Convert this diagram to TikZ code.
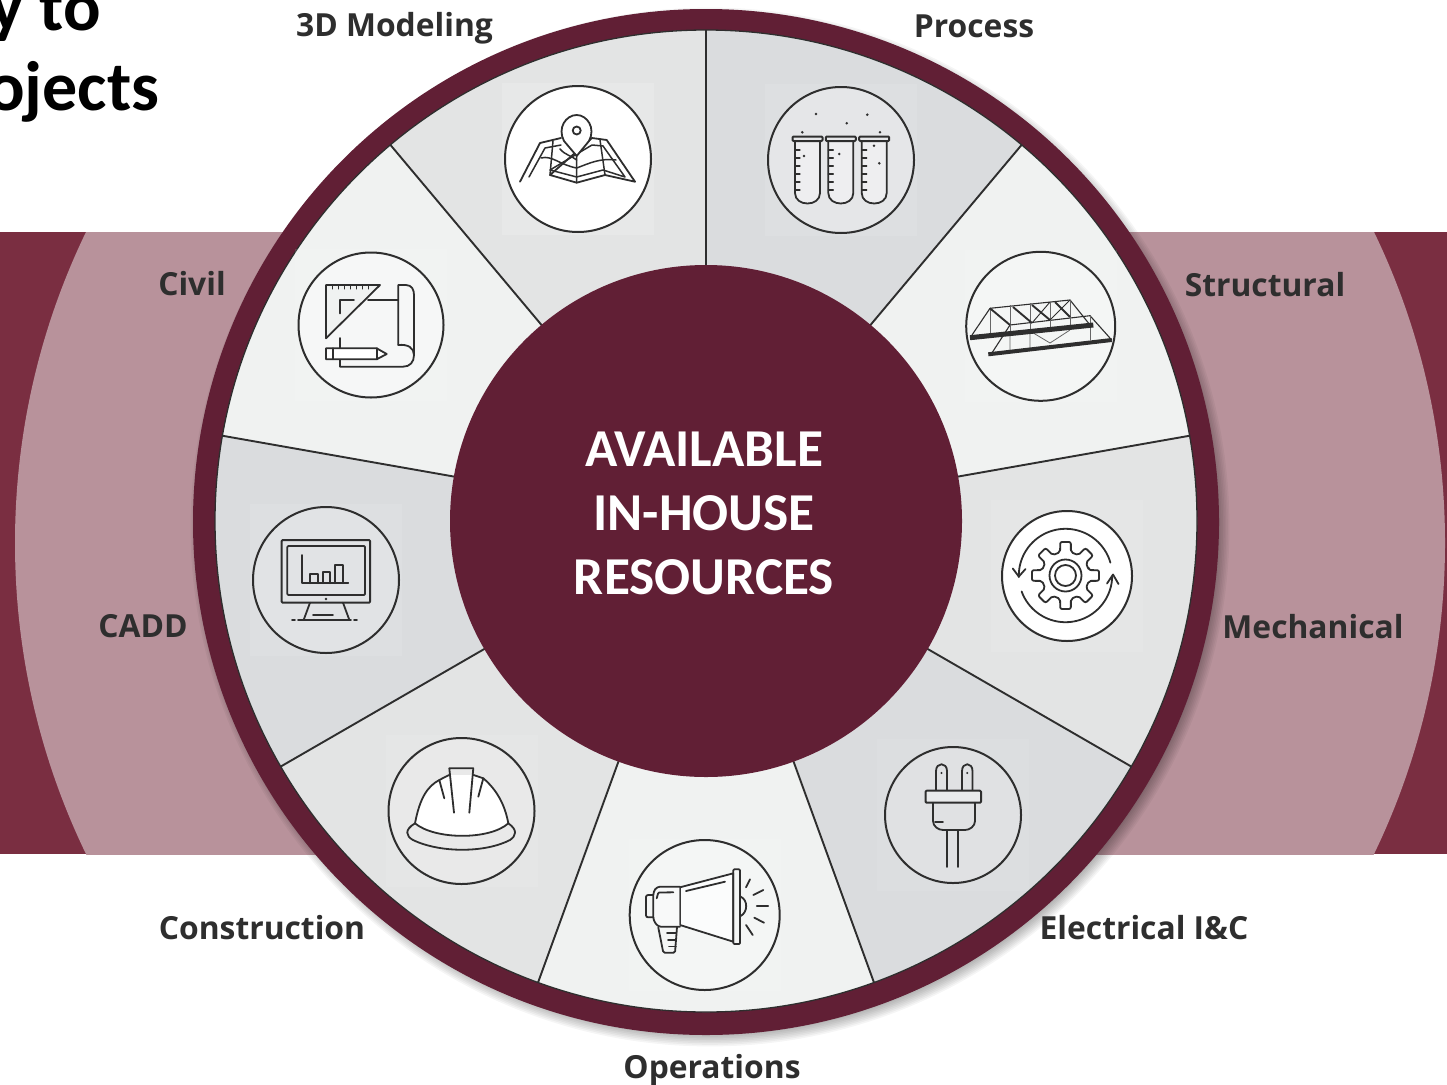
\documentclass[tikz,border=0pt]{standalone}
\usepackage{fontspec}
\setmainfont{Open Sans}
\newfontfamily\calfont{Carlito}
\definecolor{wine}{HTML}{611F35}
\definecolor{bandd}{HTML}{7A2E41}
\definecolor{bandl}{HTML}{B8929B}
\definecolor{secA}{HTML}{DADCDE}
\definecolor{secB}{HTML}{F0F2F1}
\definecolor{secC}{HTML}{E3E4E4}
\definecolor{ink}{HTML}{2E2E2E}
\tikzset{
  lab/.style={font=\fontsize{31.8}{36}\selectfont\bfseries,text=ink,inner sep=0pt},
  ico/.style={draw=ink,line width=1.8,line join=round,line cap=round},
  icb/.style={draw=ink,line width=2},
  spoke/.style={line width=1.9,ink},
}
\newcommand{\lbl}[4]{\node[lab] (n#1) at (#2,#3) {#4};}
\newcommand{\icb}[5]{% cx cy r fill squareopacity
  \fill[white,opacity=#5] (#1-76,#2-76) rectangle (#1+76,#2+76);
  \filldraw[icb,fill=#4] (#1,#2) circle[radius=#3];}
\begin{document}
\begin{tikzpicture}[x=1pt,y=-1pt]
\useasboundingbox (0,0) rectangle (1447,1084);
\clip (0,0) rectangle (1447,1084);
\fill[white] (0,0) rectangle (1447,1084);
% band
\fill[bandd] (0,232) rectangle (1447,854);
\begin{scope}
  \clip (0,232) rectangle (1447,854);
  \fill[bandl] (730,543) circle[radius=715];
\end{scope}
% title
\node[font=\calfont\fontsize{70}{74}\selectfont\bfseries,text=black,anchor=base east,inner sep=0pt] (t1) at (101,30) {y to};
\node[font=\calfont\fontsize{70}{74}\selectfont\bfseries,text=black,anchor=base east,inner sep=0pt] (t2) at (159.5,110) {ojects};
% ring shadow
\foreach \i in {1,...,9}{\fill[black,opacity=.04] (706+4,522+5) circle[radius=505+\i*1.6];}
% ring
\fill[wine] (706,522) circle[radius=513];
% sectors
\begin{scope}
  \clip (706,521) circle[radius=491];
  \begin{scope}[shift={(706,521)}]
  \foreach \a/\c in {90/secA,50/secB,10/secC,-30/secA,-70/secB,-110/secC,-150/secA,170/secB,130/secC}{
    \fill[\c] (0,0) -- ({-\a}:800) -- ({-\a+20}:900) -- ({-\a+40}:800) -- cycle;
  }
  \end{scope}
\end{scope}
\draw[line width=1.3,ink] (706,521) circle[radius=491];
\begin{scope}[shift={(706,521)}]
\foreach \a in {90,50,10,-30,-70,-110,-150,170,130}{
  \draw[spoke] ({-\a}:250) -- ({-\a}:491);
}
\end{scope}
% centre disk
\node[circle,fill=wine,minimum size=512,inner sep=0pt] (hub) at (706,521) {};
\node[text=white,align=center,inner sep=0pt,
  font=\calfont\fontsize{53.3}{64}\selectfont\bfseries] (hubtext) at (704,513) {AVAILABLE\\IN-HOUSE\\RESOURCES};
% ---- 3D modeling
\icb{578}{159}{73}{white}{.15}
\begin{scope}[ico]
\draw (520,181.7) -- (540,143) -- (561,138) (592,138) -- (606.7,140) -- (635,181.7) -- (605,175) -- (576.7,182.7) -- (550,175) -- cycle;
\draw[line width=1.5] (529,177) -- (545,148) -- (561,145) (592,145) -- (603,146) -- (625,177) -- (603,170) -- (576.7,177) -- (550,170) -- cycle;
\draw[line width=1.5] (553,141) -- (550,175) (600,140) -- (605,175) (576.7,155) -- (576.7,182.7);
\draw[line width=1.5] (541,158) .. controls (552,155) and (560,165) .. (576.7,168) .. controls (590,163) and (600,158) .. (616,160);
\draw[line width=1.5] (560,149) .. controls (565,155) and (572,156) .. (576.7,160);
\filldraw[fill=white] (576.7,156) -- (564,141) .. controls (557,128) and (566,115) .. (576.7,115) .. controls (587,115) and (596,128) .. (589,141) -- cycle;
\draw (576.7,130.5) circle[radius=4];
\end{scope}
% ---- Process
\icb{841}{160}{73}{secA!70!white}{.1}
\begin{scope}[ico]
\foreach \x in {795,828.3,861.7}{
  \draw[fill=white,fill opacity=.35] (\x,141) -- (\x,193) .. controls (\x,207) and (\x+25,207) .. (\x+25,193) -- (\x+25,141);
  \draw[line width=2,rounded corners=1] (\x-2.5,136.5) rectangle (\x+27.5,141);
  \foreach \k in {0,...,5}{\draw[line width=1.2] (\x,150+\k*8) -- (\x+5,150+\k*8);}
}
\end{scope}
\foreach \x/\y in {816/114,867.3/114.7,846.7/123.3,802.3/132.3,880/132.3,804/156,839.3/154,879.3/163.3,874/145.7}{\fill[ink] (\x,\y) circle[radius=1.4];}
% ---- Civil
\icb{371}{325}{72.5}{secB!60!white}{.12}
\begin{scope}[ico]
\draw (398.3,300) -- (368,300);
\draw (398.3,345) -- (398.3,285) -- (406,285) .. controls (412,285) and (414,290) .. (414,295) -- (414,355) .. controls (414,362) and (410,366.7) .. (403,366.7) -- (340,366.7) -- (340,338);
\draw (398.3,345) .. controls (408,344) and (414,348) .. (414,355);
\draw[fill=secB] (326,285) -- (380,285) -- (326,338.3) -- cycle;
\draw (340,313.5) -- (340,300) -- (354,300);
\foreach \x in {332,338,344,350,356,362,368}{\draw[line width=1] (\x,285) -- (\x,289);}
\draw[fill=white] (326,348.3) -- (376.7,348.3) -- (386.7,354) -- (376.7,359.3) -- (326,359.3) -- cycle;
\draw (333,348.3) -- (333,359.3) (376.7,348.3) -- (376.7,359.3);
\end{scope}
% ---- Structural
\icb{1040.7}{326.3}{74.5}{secB!70!white}{.1}
\begin{scope}[draw=ink]
\draw[line width=1.1] (972,335) -- (990,308.3) -- (1070,300) -- (1090,325);
\draw[line width=1.1] (1010,325) -- (1090,315.7) -- (1111.7,340) (1010,325) -- (991.7,353.3);
\draw[line width=.8,gray!80!black] (990,308.3) -- (990,335) (1010,305) -- (1010,332) (1030,303) -- (1030,330) (1050,302) -- (1050,328) (1070,300) -- (1070,326) (1090,316) -- (1090,340);
\draw[line width=.8,gray!80!black] (1010,333) -- (1010,352) (1030,331) -- (1050,343) -- (1070,330) (1030,331) -- (1030,350);
\draw[line width=1.9] (990,308.3) -- (1010,325) (1013,307) -- (1032,323) (1032,305) -- (1050,320) (1055,302) -- (1070,317);
\draw[line width=.9] (1070,300) -- (1050,320) (1050,302) -- (1032,323);
\draw[line width=5,ink] (970,337.7) -- (1093.3,325);
\draw[line width=4,ink] (988.3,354.3) -- (1111.7,340);
\end{scope}
% ---- CADD
\icb{326}{580}{73}{secA!80!white}{.1}
\begin{scope}[ico]
\draw[line width=2,rounded corners=1] (281.7,540) rectangle (370,602.7);
\draw[rounded corners=1] (287.3,546) rectangle (365,595);
\draw (301.7,555) -- (301.7,583.3) -- (348.3,583.3);
\draw (310,583.3) -- (310,574) -- (318,574) -- (318,583.3);
\draw (323,583.3) -- (323,572) -- (330,572) -- (330,583.3);
\draw (335,583.3) -- (335,565) -- (343,565) -- (343,583.3);
\draw (310,602.7) -- (304,619) (343,602.7) -- (349,619) (313,615) -- (333,615);
\draw (292,620) -- (295,620) (298,620) -- (351,620) (354,620) -- (357,620);
\end{scope}
\fill[ink] (326,599) circle[radius=1.4];
% ---- Mechanical
\icb{1067}{576}{65}{white}{.1}
\begin{scope}[shift={(1065.5,575.5)},ico]
\draw[rounded corners=2] (-13:24) \foreach \k in {0,...,7}{ -- ({\k*45-13}:24) -- ({\k*45-9}:34) -- ({\k*45+9}:34) -- ({\k*45+13}:24)} -- cycle;
\draw (0,0) circle[radius=16];
\draw (0,0) circle[radius=10.5];
\draw plot[domain=16:182,samples=50] ({46.7*cos(\x)},{-46.7*sin(\x)});
\draw plot[domain=200:358,samples=50] ({46.7*cos(\x)},{-46.7*sin(\x)});
\draw (-52.7,-7) -- (-46.7,1) -- (-40,-6.5);
\draw (41.5,8) -- (47.5,-1) -- (53,8.5);
\end{scope}
% ---- Electrical
\icb{953}{815}{68}{secA!85!white}{.08}
\begin{scope}[ico]
\draw (936,790.7) -- (936,771) .. controls (936,762) and (947,762) .. (947,771) -- (947,790.7);
\draw (962,790.7) -- (962,771) .. controls (962,762) and (972.5,762) .. (972.5,771) -- (972.5,790.7);
\draw[line width=2,fill=secA!60!white,rounded corners=1] (925.6,790.7) rectangle (981,802.7);
\draw (933,802.7) -- (933,821) .. controls (933,826) and (938,830) .. (943,830) -- (965,830) .. controls (970,830) and (975,826) .. (975,821) -- (975,802.7);
\draw (947,830) -- (947,867) (958,830) -- (958,867);
\draw (935,822) -- (943,822);
\end{scope}
\fill[ink] (941.5,773) circle[radius=1.2] (967.2,773) circle[radius=1.2];
% ---- Operations
\icb{704.7}{915}{75}{secB!70!white}{.1}
\begin{scope}[ico]
\draw[fill=white,fill opacity=.7] (680,887.3) -- (733.3,873.3) -- (733.3,941.7) -- (680,925) -- cycle;
\draw[rounded corners=3,fill=white,fill opacity=.4] (680,886.7) -- (657,886.7) -- (653.3,892) -- (653.3,920) -- (658,926.7) -- (680,926.7);
\draw[rounded corners=2] (653.3,895) -- (646,895) -- (646,917.3) -- (653.3,917.3);
\draw[rounded corners=1] (733.3,869.3) rectangle (740,944);
\draw (686,891) -- (725,881.7);
\draw[rounded corners=1] (656.7,898.3) -- (658.3,892.5) -- (673.3,892.3);
\draw[rounded corners=1.5] (658.3,927.5) -- (663.3,952.7) -- (675,952.7) -- (677,927);
\draw (667,933.3) -- (676,933.3) (668,940) -- (676,940) (669,946.5) -- (676,946.5);
\draw (740.7,896.7) .. controls (748,900) and (748,912) .. (740.7,916);
\draw (746,887.3) -- (750,879.3) (753.3,895) -- (763.3,890) (756.7,906) -- (768.3,906) (754.3,917.7) -- (764,922.7) (746,925) -- (752.7,935);
\end{scope}
% ---- Construction
\icb{461.5}{811}{73}{secC!80!white}{.1}
\begin{scope}[ico]
\fill[white] (415,823.3) .. controls (420,797) and (428,786) .. (439.3,780) -- (449,775) -- (473.5,775) -- (483.3,778.3) .. controls (497,790) and (505,805) .. (508.3,823.3) .. controls (490,840) and (435,840) .. (415,823.3);
\draw (415,823.3) .. controls (420,797) and (428,786) .. (439.3,780) -- (449,775) (473.5,775) -- (483.3,778.3) .. controls (497,790) and (505,805) .. (508.3,823.3);
\draw (439.3,780) -- (444.3,798.3) (483.3,778.3) -- (478.3,796.7);
\draw (454,812.7) -- (449.3,768.3) -- (473.3,768.3) -- (469.3,812.7);
\draw (415,823.3) .. controls (404,830) and (406,836) .. (413,840) .. controls (440,853) and (485,853) .. (510,840) .. controls (516,836) and (518,830) .. (508.3,823.3) .. controls (490,840) and (435,840) .. (415,823.3);
\end{scope}
% labels
\lbl{fa}{394.5}{28}{3D Modeling}
\lbl{fb}{974}{26}{Process}
\lbl{fc}{192}{284}{Civil}
\lbl{fd}{1265}{285}{Structural}
\lbl{fe}{143}{626}{CADD}
\lbl{ff}{1313}{626.5}{Mechanical}
\lbl{fg}{262}{927.5}{Construction}
\lbl{fh}{1144}{928}{Electrical I\&C}
\lbl{fi}{712}{1070}{Operations}
\end{tikzpicture}
\end{document}
